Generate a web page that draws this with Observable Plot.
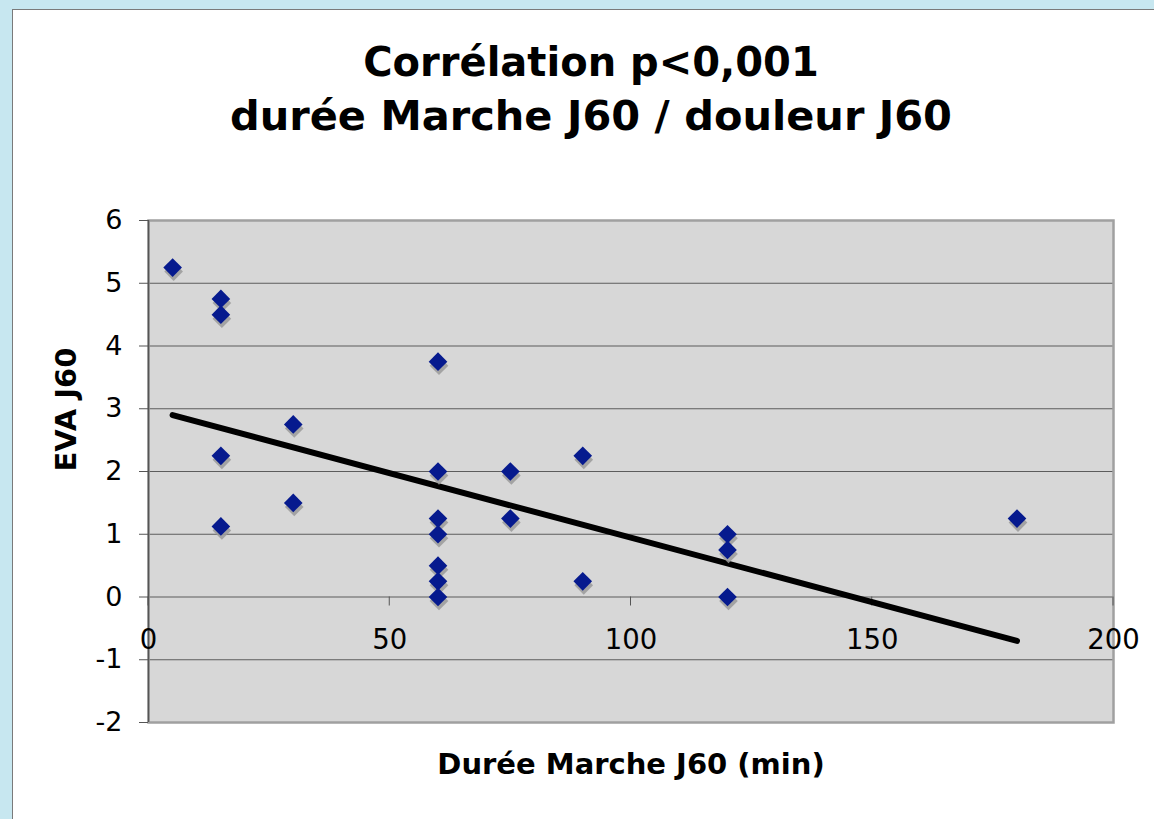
<!DOCTYPE html>
<html><head><meta charset="utf-8">
<script src="https://cdn.jsdelivr.net/npm/d3@7"></script>
<script src="https://cdn.jsdelivr.net/npm/@observablehq/plot@0.6"></script>
<style>
html,body{margin:0;padding:0;width:1154px;height:819px;overflow:hidden;background:#c7e7f0;}
#panel{position:absolute;left:12px;top:9px;width:1160px;height:830px;background:#fff;border-left:1px solid #7a7a7a;border-top:1px solid #7a7a7a;}
#title{position:absolute;left:0;top:36px;width:1182px;text-align:center;font-family:"DejaVu Sans",Verdana,sans-serif;font-weight:bold;font-size:40px;line-height:53px;color:#000;}
#title span{display:inline-block;}
#l2{font-size:41.5px;}
#chart{position:absolute;left:0;top:160px;}
</style></head><body>
<div id="panel"></div>
<div id="title"><span>Corrélation p&lt;0,001</span><br><span id="l2">durée Marche J60 / douleur J60</span></div>
<div id="chart"></div>
<script>
// Data
const dureeMarche = [5,15,15,15,15,30,30,60,60,60,60,60,60,60,75,75,90,90,120,120,120,180];
const evaJ60     = [5.25,4.75,4.5,2.25,1.125,2.75,1.5,3.75,2,1.25,1,0.5,0.25,0,2,1.25,2.25,0.25,1,0.75,0,1.25];
const trendX = [5, 180];
const trendY = [2.9, -0.7];
const xTicks = [0,50,100,150,200];
const yTicks = [-2,-1,0,1,2,3,4,5,6];
const xTitle = "Durée Marche J60 (min)";
const yTitle = "EVA J60";

const points = dureeMarche.map((x,i)=>({x, y: evaJ60[i]}));
const trend = trendX.map((x,i)=>({x, y: trendY[i]}));

const xTickMarks = (index, scales) => {
  const g = d3.create("svg:g").attr("stroke","#555").attr("stroke-width",1);
  for (const v of xTicks) {
    const px = scales.x(v), py = scales.y(0);
    g.append("line").attr("x1",px).attr("x2",px).attr("y1",py).attr("y2",py+9);
  }
  return g.node();
};

const chart = Plot.plot({
  width: 1154, height: 659,
  marginLeft: 148, marginRight: 41, marginTop: 60, marginBottom: 97,
  x: {domain: [0,200], axis: null},
  y: {domain: [-2,6], axis: null},
  style: {fontFamily: '"DejaVu Sans", Verdana, sans-serif', fontSize: "27px", color: "#000", background: "transparent", overflow: "visible"},
  marks: [
    Plot.frame({fill: "#d7d7d7", stroke: null}),
    Plot.ruleY(yTicks, {stroke: "#5c5c5c", strokeWidth: 1.2}),
    Plot.frame({stroke: "#a0a0a0", strokeWidth: 2.5}),
    Plot.ruleX([0], {stroke: "#555", strokeWidth: 1.5}),
    Plot.axisY(yTicks, {label: null, tickSize: 9, tickPadding: 17, fontSize: 27, stroke: "#555", tickFormat: d => String(d)}),
    xTickMarks,
    Plot.text(xTicks, {x: d => d, y: 0, text: d => String(d), dy: 43, fontSize: 27.5, fill: "#000"}),
    Plot.line(trend, {x: "x", y: "y", stroke: "#000", strokeWidth: 6}),
    Plot.dot(points, {x: "x", y: "y", symbol: "diamond2", r: 8.4, fill: "#9a9a9a", fillOpacity: 0.85, stroke: null, dx: 1, dy: 4}),
    Plot.dot(points, {x: "x", y: "y", symbol: "diamond2", r: 8.4, fill: "#061a8e", stroke: null}),
    Plot.text([xTitle], {frameAnchor: "bottom", dy: 51, fontSize: 29, fontWeight: "bold", fill: "#000"}),
    Plot.text([yTitle], {frameAnchor: "left", dx: -82, rotate: -90, fontSize: 29, fontWeight: "bold", fill: "#000"})
  ]
});
document.getElementById("chart").appendChild(chart);
</script>
</body></html>
